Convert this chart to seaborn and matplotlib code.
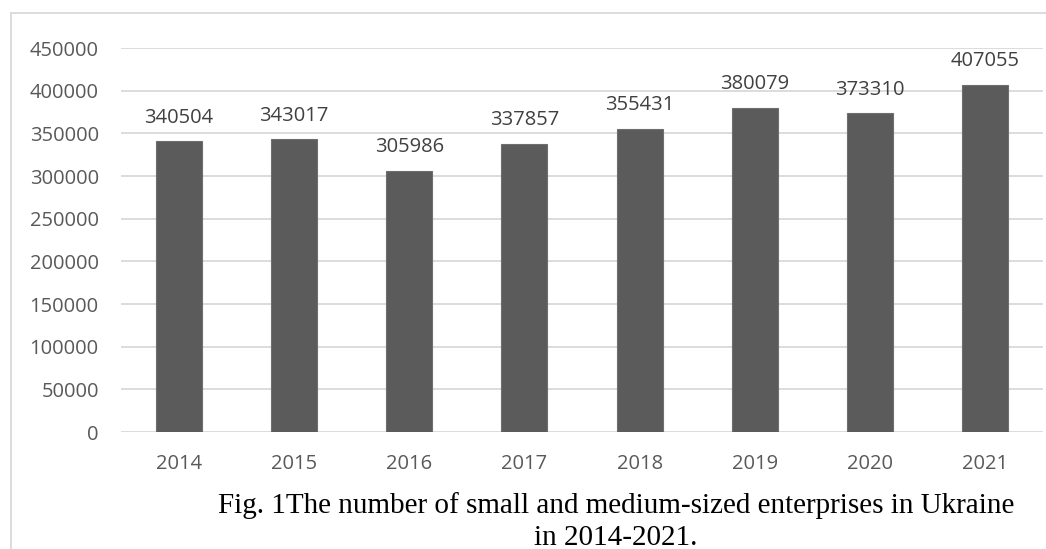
import matplotlib
matplotlib.use("Agg")
import matplotlib.pyplot as plt
import seaborn as sns
import pandas as pd
from matplotlib.lines import Line2D

years = ["2014", "2015", "2016", "2017", "2018", "2019", "2020", "2021"]
enterprises = [340504, 343017, 305986, 337857, 355431, 380079, 373310, 407055]
y_ticks = [0, 50000, 100000, 150000, 200000, 250000, 300000, 350000, 400000, 450000]
caption_lines = ["Fig. 1The number of small and medium-sized enterprises in Ukraine",
                 "in 2014-2021."]

sns.set_theme(style="white")
plt.rcParams["font.family"] = ["Open Sans", "DejaVu Sans"]

df = pd.DataFrame({"year": years, "count": enterprises})

W, H = 1046, 549
fig = plt.figure(figsize=(W / 100, H / 100), dpi=100)
ax = fig.add_axes([121 / W, 117 / H, 922 / W, 384 / H])

# light frame (top and left edges) around the chart area
frame_kw = dict(transform=fig.transFigure, color="#d9d9d9", linewidth=1.3)
fig.add_artist(Line2D([10.5 / W, 1.0], [1 - 13 / H, 1 - 13 / H], **frame_kw))
fig.add_artist(Line2D([10.5 / W, 10.5 / W], [0.0, 1 - 13 / H], **frame_kw))

sns.barplot(data=df, x="year", y="count", color="#5b5b5b", width=0.4,
            edgecolor="#6e6e6e", linewidth=0.8, saturation=1, ax=ax, zorder=3)

ax.set_ylim(0, 450000)
ax.set_yticks(y_ticks)
ax.set_yticklabels([str(v) for v in y_ticks])
ax.yaxis.grid(True, color="#d9d9d9", linewidth=1.3, zorder=0)
ax.set_axisbelow(True)
for s in ax.spines.values():
    s.set_visible(False)
ax.tick_params(axis="both", length=0, labelsize=14.5, labelcolor="#595959")
ax.tick_params(axis="y", pad=16)
ax.tick_params(axis="x", pad=16)
ax.set_xlabel("")
ax.set_ylabel("")

for i, v in enumerate(enterprises):
    ax.annotate(str(v), (i, v), xytext=(0, 13.5), textcoords="offset points",
                ha="center", va="baseline", fontsize=14.5, color="#404040")

# two-line caption below the chart
for line, base_px in zip(caption_lines, [513, 545]):
    fig.text(616 / W, 1 - base_px / H, line, ha="center", va="baseline",
             fontsize=21, family=["Liberation Serif"], color="#000000")

fig.savefig("out.png", dpi=100)
